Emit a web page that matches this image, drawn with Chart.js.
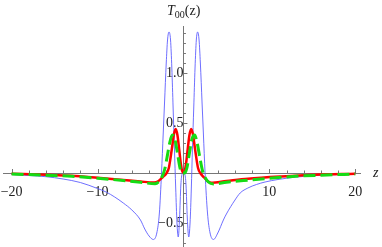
<!DOCTYPE html>
<html>
<head>
<meta charset="utf-8">
<script src="https://cdn.jsdelivr.net/npm/chart.js@4"></script>
<style>
  html, body { margin:0; padding:0; background:#fff; }
  #wrap { width:382px; height:247px; }
</style>
</head>
<body>
<div id="wrap"><canvas id="t00Chart" width="382" height="247"></canvas></div>
<script>
/* DATA */
const blueZ = [-20,-18,-16,-14,-12,-10,-9,-8,-7,-6,-5,-4.5,-4,-3.5,-3.1,-2.8,-2.55,-2.35,-2.2,-2.0,-1.85,-1.68,-1.5,-1.35,-1.2,-1.05,-0.9,-0.75,-0.6,-0.45,-0.3,-0.15,0,
  0.15,0.3,0.45,0.62,0.77,0.92,1.05,1.2,1.35,1.5,1.65,1.82,1.97,2.17,2.32,2.52,2.8,3.1,3.5,4,4.65,5,6,6.6,7.5,8.5,9.5,11,13,15,17,20];
const blueT = [-0.015,-0.025,-0.037,-0.06,-0.095,-0.155,-0.19,-0.24,-0.3,-0.37,-0.47,-0.56,-0.63,-0.665,-0.6,-0.4,0.0,0.4,0.7,1.1,1.33,1.41,1.33,1.05,0.65,0.25,-0.15,-0.5,-0.64,-0.45,-0.12,-0.01,0.0,
  -0.01,-0.12,-0.45,-0.64,-0.5,-0.15,0.25,0.65,1.05,1.33,1.41,1.33,1.1,0.7,0.4,0.0,-0.4,-0.6,-0.665,-0.6,-0.47,-0.41,-0.27,-0.2,-0.15,-0.115,-0.09,-0.065,-0.042,-0.028,-0.018,-0.01];

const redZ = [-20,-16,-13,-10,-7,-5,-3.4,-2.9,-2.4,-2.0,-1.7,-1.35,-1.1,-0.9,-0.7,-0.5,-0.3,-0.15,0,
  0.15,0.3,0.5,0.7,0.9,1.1,1.35,1.7,2.0,2.4,2.8,3.2,5,7.5,11.4,15.3,20];
const redT = [-0.008,-0.018,-0.028,-0.048,-0.07,-0.085,-0.095,-0.08,-0.04,-0.005,0.05,0.24,0.39,0.44,0.38,0.24,0.09,0.02,0.0,
  0.02,0.09,0.24,0.38,0.44,0.39,0.24,0.05,-0.005,-0.045,-0.08,-0.097,-0.08,-0.057,-0.034,-0.017,-0.007];

const greenZ = [-20,-16,-13,-10,-7,-5,-3.3,-2.9,-2.5,-2.2,-1.9,-1.6,-1.3,-1.0,-0.7,-0.4,-0.2,0,
  0.2,0.4,0.7,1.0,1.3,1.6,1.9,2.2,2.5,2.9,3.5,5,7,10,13,16,20];
const greenT = [-0.01,-0.022,-0.033,-0.053,-0.075,-0.092,-0.108,-0.09,-0.04,0.03,0.16,0.3,0.38,0.34,0.2,0.05,0.005,0.0,
  0.005,0.05,0.2,0.34,0.38,0.3,0.16,0.03,-0.04,-0.09,-0.11,-0.092,-0.075,-0.053,-0.033,-0.022,-0.01];

const xTickValues = [-20,-10,10,20];
const yTickValues = [-0.5,0.5,1.0];

const pts = (zs, ts) => zs.map((z, i) => ({ x: z, y: ts[i] }));
const minus = s => s.replace("-", "\u2212");

const SERIF = "'Liberation Serif', 'DejaVu Serif', serif";
const AXIS_COLOR = "#777";

// axes sit inside the plot, so they must not eat layout space
function noSpace(s) {
  if (s.isHorizontal()) s.height = 0; else s.width = 0;
  s.paddingLeft = s.paddingRight = s.paddingTop = s.paddingBottom = 0;
}

/* minor ticks, axis title and z label, Mathematica style */
const decorations = {
  id: "decorations",
  beforeDatasetsDraw(chart) {
    const { ctx, scales: { x, y } } = chart;
    const x0 = x.getPixelForValue(0), y0 = y.getPixelForValue(0);
    ctx.save();
    ctx.strokeStyle = AXIS_COLOR;
    ctx.lineWidth = 1;
    ctx.beginPath();
    for (let v = -20; v <= 20; v += 2) {
      if (v === 0) continue;
      const px = Math.round(x.getPixelForValue(v)) + 0.5;
      const len = v % 10 === 0 ? 4 : 2.5;
      ctx.moveTo(px, y0);
      ctx.lineTo(px, y0 - len);
    }
    for (let k = -7; k <= 14; k++) {
      if (k === 0) continue;
      const py = Math.round(y.getPixelForValue(k / 10)) + 0.5;
      const len = k % 5 === 0 ? 4 : 2.5;
      ctx.moveTo(x0, py);
      ctx.lineTo(x0 + len, py);
    }
    ctx.stroke();
    ctx.restore();
  },
  afterDraw(chart) {
    const { ctx, scales: { y } } = chart;
    const y0 = y.getPixelForValue(0);
    ctx.save();
    ctx.fillStyle = "#222";
    ctx.textBaseline = "alphabetic";
    // T_00(z)
    let cx = 167;
    ctx.font = "italic 14px " + SERIF;
    ctx.fillText("T", cx, 15);
    cx += ctx.measureText("T").width;
    ctx.font = "10px " + SERIF;
    ctx.fillText("00", cx, 18);
    cx += ctx.measureText("00").width;
    ctx.font = "14px " + SERIF;
    ctx.fillText("(z)", cx, 15);
    // axis label z
    ctx.font = "italic 14px " + SERIF;
    ctx.fillText("z", 373, y0 + 4);
    ctx.restore();
  }
};

new Chart(document.getElementById("t00Chart"), {
  type: "line",
  data: {
    datasets: [
      { label: "green", data: pts(greenZ, greenT), borderColor: "#14dc14", borderWidth: 3,
        borderDash: [12, 5], borderCapStyle: "butt", pointRadius: 0, cubicInterpolationMode: "monotone", order: 1 },
      { label: "red", data: pts(redZ, redT), borderColor: "#ff0000", borderWidth: 2.5,
        pointRadius: 0, cubicInterpolationMode: "monotone", order: 2 },
      { label: "blue", data: pts(blueZ, blueT), borderColor: "rgba(95,95,255,0.9)", borderWidth: 1,
        pointRadius: 0, cubicInterpolationMode: "monotone", order: 3 }
    ]
  },
  options: {
    animation: false,
    responsive: false,
    layout: { padding: { left: 3, right: 22, top: 26, bottom: 1 } },
    plugins: { legend: { display: false }, tooltip: { enabled: false } },
    scales: {
      x: {
        type: "linear", min: -21, max: 20.55,
        position: { y: 0 },
        afterFit: noSpace,
        afterBuildTicks: s => { s.ticks = xTickValues.map(v => ({ value: v })); },
        grid: { display: false },
        border: { display: true, color: AXIS_COLOR, width: 1 },
        ticks: { autoSkip: false, maxRotation: 0, padding: 3, color: "#222",
          font: { family: SERIF, size: 14 }, callback: v => minus(String(v)) }
      },
      y: {
        type: "linear", min: -0.73, max: 1.47,
        position: { x: 0 },
        afterFit: noSpace,
        afterBuildTicks: s => { s.ticks = yTickValues.map(v => ({ value: v })); },
        grid: { display: false },
        border: { display: true, color: AXIS_COLOR, width: 1 },
        ticks: { autoSkip: false, padding: 3, color: "#222",
          font: { family: SERIF, size: 14 }, callback: v => minus(v.toFixed(1)) }
      }
    }
  },
  plugins: [decorations]
});
</script>
</body>
</html>
